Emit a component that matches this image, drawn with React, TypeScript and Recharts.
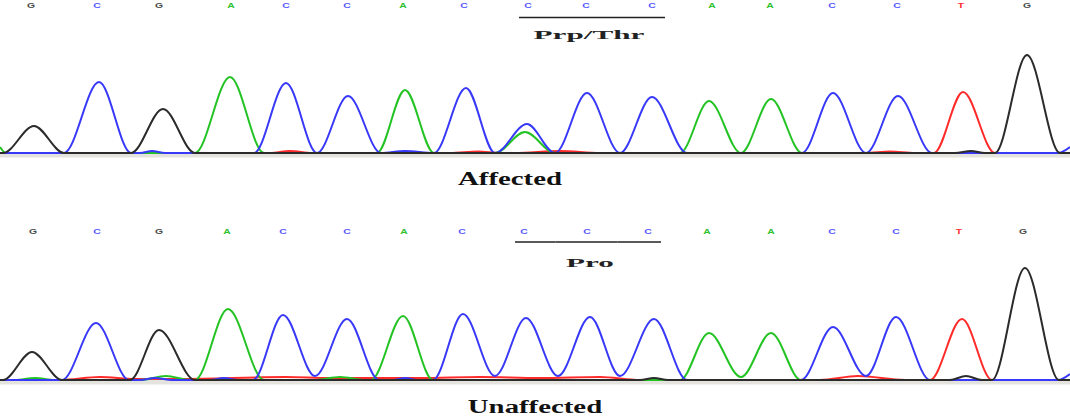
import React from "react";
import { LineChart, Line, XAxis, YAxis, ReferenceArea } from "recharts";

type Pt = [number, number];

// base calls, shared by both reads
const bases = ["G", "C", "G", "A", "C", "C", "A", "C", "C", "C", "C", "A", "A", "C", "C", "T", "G"];
const codon = [8, 9, 10];

// scan position of each base call
const affectedCalls = [31, 97, 159, 231, 286, 347, 403, 464, 528, 586, 652, 712, 770, 832, 897, 961, 1027];
const unaffectedCalls = [33, 97, 159, 227, 283, 347, 404, 462, 524, 587, 648, 707, 771, 832, 896, 959, 1023];

// affected read, [scan, signal]
const affectedG: Pt[] = [[0, 0], [3, 0], [34, 27], [64, 0], [131, 0], [163, 44], [195, 0], [955, 0], [971, 2], [985, 0], [995, 0], [1027, 98], [1060, 0], [1070, 0]];
const affectedC: Pt[] = [[0, 0], [64, 0], [99, 71], [131, 0], [140, 0], [152, 2], [165, 0], [254, 0], [286, 70], [317, 0], [348, 57], [381, 0], [405, 2], [434, 0], [466, 65], [495, 0], [527, 29], [555, 0], [587, 60], [620, 0], [652, 56], [687, 0], [802, 0], [833, 60], [866, 0], [898, 57], [932, 0], [1058, 0], [1070, 6]];
const affectedA: Pt[] = [[0, 6], [6, 0], [195, 0], [230, 76], [264, 0], [377, 0], [405, 63], [434, 0], [495, 0], [525, 21], [555, 0], [680, 0], [709, 52], [741, 0], [771, 54], [802, 0], [1070, 0]];
const affectedT: Pt[] = [[0, 0], [270, 0], [290, 2], [312, 0], [450, 0], [478, 1.5], [500, 0], [515, 0], [560, 2], [600, 0], [865, 0], [890, 1.5], [915, 0], [934, 0], [963, 61], [995, 0], [1070, 0]];

// unaffected read, [scan, signal]
const unaffectedG: Pt[] = [[0, 0], [3, 0], [32, 28], [62, 0], [130, 0], [159, 50], [195, 0], [640, 0], [654, 2], [668, 0], [950, 0], [966, 4], [982, 0], [992, 0], [1025, 112], [1059, 0], [1070, 0]];
const unaffectedC: Pt[] = [[0, 0], [62, 0], [96, 57], [129, 0], [140, 0], [155, 2], [172, 0], [210, 0], [224, 2], [238, 0], [253, 0], [283, 65], [315, 4], [347, 61], [379, 0], [393, 0], [405, 2], [417, 0], [433, 0], [463, 66], [495, 4], [526, 62], [558, 4], [590, 63], [620, 4], [654, 61], [687, 0], [801, 0], [833, 53], [866, 4], [896, 63], [930, 0], [1058, 0], [1070, 6]];
const unaffectedA: Pt[] = [[0, 0], [15, 0], [35, 2], [55, 0], [140, 0], [166, 4], [190, 0], [195, 0], [228, 71], [264, 0], [315, 0], [340, 3], [365, 0], [371, 0], [403, 64], [433, 0], [680, 0], [709, 47], [741, 3], [771, 47], [801, 0], [1070, 0]];
const unaffectedT: Pt[] = [[0, 0], [60, 0], [100, 3], [135, 1], [180, 1], [286, 3], [330, 2], [420, 2], [480, 3], [540, 2], [600, 3], [640, 0], [820, 0], [858, 4], [905, 0], [930, 0], [962, 61], [992, 0], [1070, 0]];

const traceColors: Record<string, string> = { A: "#22c322", C: "#3838f8", G: "#2b2b2b", T: "#ff2a2a" };
const callColors: Record<string, string> = { A: "#30c030", C: "#5a5aff", G: "#4a4a4a", T: "#ff3030" };

const toRows = (pts: Pt[]) => pts.map(([x, y]) => ({ x, y }));

interface PanelProps {
  traces: { base: string; pts: Pt[] }[];
  calls: number[];
  codonName: string;
  height: number;
  axisHeight: number;
  yMax: number;
  callY: number;
  barY: number;
  nameY: number;
}

function Panel({ traces, calls, codonName, height, axisHeight, yMax, callY, barY, nameY }: PanelProps) {
  const renderTick = (props: any) => {
    const { x, payload } = props;
    const i = calls.indexOf(payload.value);
    if (i < 0) return <g />;
    const b = bases[i];
    let bar = null;
    let name = null;
    if (codon.includes(i)) {
      const left = i === codon[0] ? x - 9 : x - (calls[i] - calls[i - 1]) / 2;
      const right = i === codon[codon.length - 1] ? x + 13 : x + (calls[i + 1] - calls[i]) / 2;
      bar = <line x1={left} x2={right} y1={barY} y2={barY} stroke="#222" strokeWidth={1.6} />;
      if (i === codon[1]) {
        name = (
          <text transform={`translate(${x + 3},${nameY}) scale(2.6,1)`} textAnchor="middle"
            fontFamily="'Liberation Serif', serif" fontWeight="bold" fontSize={12} fill="#222">
            {codonName}
          </text>
        );
      }
    }
    return (
      <g>
        <text transform={`translate(${x},${callY}) scale(1.6,1)`} textAnchor="middle"
          fontFamily="'Liberation Sans', sans-serif" fontWeight="bold" fontSize={6.5} fill={callColors[b]}>
          {b}
        </text>
        {bar}
        {name}
      </g>
    );
  };

  return (
    <LineChart width={1070} height={height} margin={{ top: 0, right: 0, bottom: 2, left: 0 }}>
      <XAxis type="number" dataKey="x" orientation="top" domain={[0, 1070]} ticks={calls} interval={0}
        height={axisHeight} axisLine={false} tickLine={false} tick={renderTick} />
      <YAxis type="number" dataKey="y" domain={[-5, yMax]} hide />
      <ReferenceArea y1={-4.5} y2={0} fill="#e4e3de" fillOpacity={1} stroke="none" />
      {traces.map((t) => (
        <Line key={t.base} data={toRows(t.pts)} dataKey="y" type="monotone" stroke={traceColors[t.base]}
          strokeWidth={2} dot={false} activeDot={false} isAnimationActive={false} />
      ))}
    </LineChart>
  );
}

const titleStyle: React.CSSProperties = {
  position: "absolute",
  fontFamily: "'Liberation Serif', serif",
  fontWeight: "bold",
  fontSize: 18,
  lineHeight: "18px",
  whiteSpace: "nowrap",
  color: "#111",
  transform: "translateX(-50%) scaleX(1.6)",
};

export default function App() {
  return (
    <div style={{ position: "absolute", left: 0, top: 0, width: 1070, height: 420, background: "#fff", overflow: "hidden" }}>
      <div style={{ position: "absolute", left: 0, top: 0 }}>
        <Panel
          traces={[
            { base: "T", pts: affectedT },
            { base: "A", pts: affectedA },
            { base: "C", pts: affectedC },
            { base: "G", pts: affectedG },
          ]}
          calls={affectedCalls}
          codonName="Prp/Thr"
          height={160}
          axisHeight={45}
          yMax={108}
          callY={8}
          barY={17.5}
          nameY={39}
        />
      </div>
      <div style={{ ...titleStyle, left: 510, top: 170 }}>Affected</div>
      <div style={{ position: "absolute", left: 0, top: 200 }}>
        <Panel
          traces={[
            { base: "T", pts: unaffectedT },
            { base: "A", pts: unaffectedA },
            { base: "C", pts: unaffectedC },
            { base: "G", pts: unaffectedG },
          ]}
          calls={unaffectedCalls}
          codonName="Pro"
          height={187}
          axisHeight={60}
          yMax={120}
          callY={34}
          barY={42}
          nameY={67}
        />
      </div>
      <div style={{ ...titleStyle, left: 535, top: 398 }}>Unaffected</div>
    </div>
  );
}
